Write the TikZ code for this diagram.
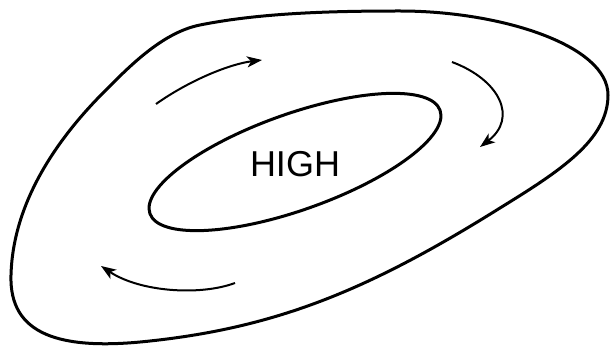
\documentclass[tikz,border=0pt]{standalone}
\usepackage{fontspec}
\setmainfont{Liberation Sans}
\usetikzlibrary{arrows.meta,positioning}

\begin{document}
\begin{tikzpicture}[
    x=1pt, y=-1pt,
    isobar/.style={line width=3pt, line join=round, line cap=round},
    flow/.style={line width=2pt, -{Stealth[length=15pt, width=11pt, inset=4pt]}},
    label/.style={font=\fontsize{36}{36}\selectfont, inner sep=0pt}
]
    \useasboundingbox (0,0) rectangle (610,347);

    % outer isobar
    \draw[isobar] (11,275)
        .. controls (13,200) and (60,137) .. (100,96)
        .. controls (125,71) and (160,33) .. (200,25)
        .. controls (260,13) and (330,11) .. (400,11)
        .. controls (500,11) and (608,45) .. (608,95)
        .. controls (608,140) and (560,171) .. (500,208)
        .. controls (372,288) and (280,327) .. (150,341)
        .. controls (60,351) and (9,335) .. (11,275);

    % inner isobar
    \draw[isobar] (295,162) ellipse[x radius=154, y radius=48, rotate=19.6];

    \node[label] (high) at (295,164) {HIGH};

    % circulation
    \coordinate (nwA) at (156,104);
    \coordinate (nwB) at (262,60);
    \coordinate (neA) at (452,62);
    \coordinate (neB) at (480,147);
    \coordinate (swA) at (235,283);
    \coordinate (swB) at (101,266);
    \draw[flow] (nwA) .. controls (190,80) and (230,64) .. (nwB);
    \draw[flow] (neA) .. controls (500,80) and (518,118) .. (neB);
    \draw[flow] (swA) .. controls (200,296) and (140,292) .. (swB);
\end{tikzpicture}
\end{document}
